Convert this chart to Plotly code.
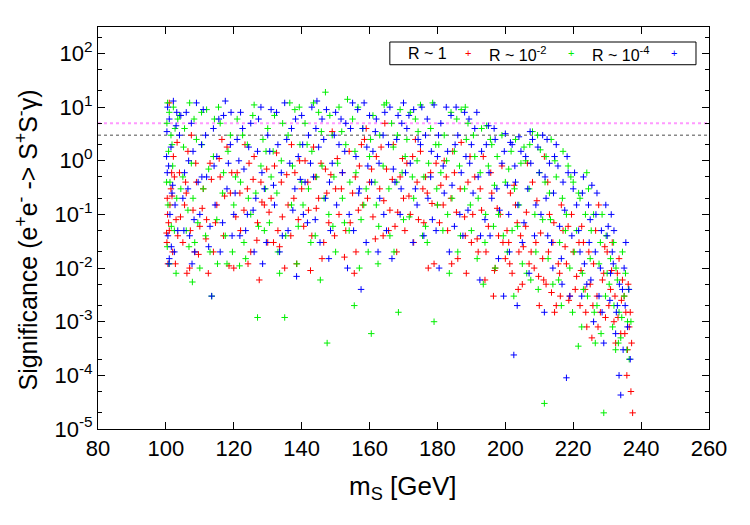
import plotly.graph_objects as go

# ---------------- data ----------------
# (m_S [GeV], significance)
red_points = [  # R ~ 1
    (100.5, 0.1), (100.8, 0.07), (101, 0.05), (101.2, 0.15), (100.3, 0.03), (101.5, 0.3), (102, 0.02),
    (101, 12), (102.5, 0.5), (100.6, 0.012), (103, 0.08), (101.8, 0.22), (102.2, 1.2), (100.4, 0.2), (103.5, 0.04),
    (104, 0.6), (105, 0.03), (106, 0.25), (107, 0.01), (108, 0.12), (109, 0.4), (106.5, 1.5), (110, 0.06),
    (108.5, 0.02), (105.5, 0.15), (107.5, 3.0),
    (111, 0.3), (112, 0.08), (113, 0.9), (114, 0.02), (115, 0.15), (116, 0.5), (117, 0.04), (118, 1.8),
    (119, 0.25), (120, 0.01), (112.5, 0.008), (116.5, 2.5),
    (121, 0.6), (122, 0.05), (123, 0.12), (124, 0.3), (125, 0.02), (126, 1.2), (127, 0.07), (128, 0.4),
    (129, 0.15), (130, 0.03), (124.5, 0.9), (127.5, 0.006),
    (131, 0.2), (132, 0.8), (133, 0.05), (134, 0.4), (135, 0.01), (136, 0.15), (137, 2.0), (138, 0.6),
    (139, 0.08), (140, 0.3), (133.5, 0.025), (138.5, 0.012),
    (141, 1.0), (142, 0.12), (143, 0.04), (144, 0.5), (145, 0.2), (146, 0.015), (147, 0.7), (148, 0.07),
    (149, 3.5), (150, 0.3), (143.5, 1.8), (146.5, 0.03),
    (151, 0.1), (152, 0.6), (153, 0.05), (154, 1.5), (155, 0.25), (156, 0.02), (157, 0.8), (158, 0.15),
    (159, 4.0), (160, 0.4), (155.5, 0.008), (158.5, 2.5),
    (161, 0.09), (162, 1.2), (163, 0.3), (164, 0.04), (165, 0.7), (166, 0.12), (167, 2.0), (168, 0.02),
    (169, 0.5), (170, 0.2), (164.5, 5.0), (167.5, 0.06),
    (171, 0.9), (172, 0.1), (173, 0.03), (174, 0.4), (175, 1.5), (176, 0.07), (177, 0.25), (178, 0.6),
    (179, 0.012), (180, 0.15), (173.5, 2.5), (176.5, 0.5),
    (181, 0.35), (182, 1.0), (183, 0.05), (184, 0.2), (185, 0.6), (186, 0.015), (187, 2.2), (188, 0.09),
    (189, 0.4), (190, 0.03), (184.5, 1.5), (188.5, 0.008),
    (191, 0.5), (192, 0.02), (193, 0.12), (194, 0.006), (195, 0.06), (196, 0.25), (197, 0.01), (198, 0.04),
    (199, 0.8), (200, 0.015), (193.5, 1.2), (196.5, 0.003), (198.5, 0.1),
    (201, 0.03), (202, 0.008), (203, 0.15), (204, 0.02), (205, 0.005), (206, 0.06), (207, 0.012), (208, 0.4),
    (209, 0.03), (210, 0.002), (203.5, 0.07), (206.5, 0.9), (201.5, 0.25), (208.5, 0.01), (204.5, 0.04),
    (211, 0.015), (212, 0.005), (213, 0.1), (214, 0.03), (215, 0.002), (216, 0.008), (217, 0.05), (218, 0.012),
    (219, 0.003), (220, 0.02), (212.5, 0.4), (216.5, 0.15), (214.5, 0.0015), (218.5, 0.06), (211.5, 1.2),
    (221, 0.007), (222, 0.002), (223, 0.03), (224, 0.0008), (225, 0.005), (226, 0.012), (227, 0.003),
    (228, 0.0015), (229, 0.008), (230, 0.02), (222.5, 0.06), (225.5, 0.0005), (227.5, 0.15), (223.5, 0.004),
    (229.5, 0.0012),
    (231, 0.004), (232, 0.001), (233, 0.008), (234, 0.0006), (235, 0.003), (236, 0.0003), (237, 5e-5),
    (237.5, 2e-5), (233.5, 0.015), (235.5, 0.0015), (232.5, 0.0004), (234.5, 0.006), (236.5, 0.0008),
    (231.5, 0.03),
    # second pass
    (100.2, 0.045), (101.7, 0.6), (102.8, 0.012), (104.3, 0.09), (105.8, 0.4), (107.2, 0.05), (108.8, 0.9),
    (109.6, 0.018), (103.3, 2.2), (106.2, 0.008),
    (110.7, 0.13), (111.8, 0.035), (113.4, 0.45), (114.6, 0.07), (115.7, 1.1), (117.3, 0.22), (118.6, 0.011),
    (119.4, 0.6),
    (120.6, 0.09), (121.8, 0.25), (123.3, 2.0), (124.2, 0.012), (125.7, 0.45), (126.8, 0.033), (128.3, 0.17),
    (129.7, 0.7),
    (130.4, 0.11), (131.7, 0.03), (132.6, 1.4), (134.3, 0.09), (135.6, 0.55), (136.8, 0.04), (137.7, 0.2),
    (139.4, 1.0),
    (140.6, 0.06), (141.8, 0.4), (142.6, 0.009), (144.3, 0.13), (145.7, 0.9), (147.4, 0.25), (148.6, 0.55),
    (149.7, 0.04),
    (150.5, 1.1), (151.7, 0.3), (152.6, 0.016), (154.3, 0.07), (155.8, 0.5), (156.7, 0.12), (157.6, 2.0),
    (159.4, 0.2),
    (160.6, 0.7), (161.7, 0.035), (163.4, 1.8), (164.2, 0.18), (165.6, 0.05), (166.7, 0.45), (168.3, 0.11),
    (169.7, 1.1),
    (170.4, 0.05), (171.6, 0.22), (172.7, 1.2), (174.4, 0.08), (175.7, 0.3), (177.3, 0.01), (178.4, 0.16),
    (179.6, 0.9),
    (180.6, 0.07), (181.7, 0.15), (182.6, 0.5), (184.2, 0.012), (185.6, 0.11), (186.7, 0.3), (188.2, 0.04),
    (189.6, 1.2),
    (190.4, 0.1), (191.7, 0.035), (192.6, 0.3), (194.3, 0.02), (195.7, 0.6), (196.8, 0.009), (197.6, 0.13),
    (199.3, 0.03),
    (200.5, 0.05), (201.3, 0.012), (202.6, 0.35), (203.8, 0.004), (205.3, 0.025), (206.2, 0.11), (207.6, 0.02),
    (209.3, 0.18), (209.8, 0.007),
    (210.4, 0.045), (211.3, 0.006), (212.7, 0.02), (213.6, 0.0035), (214.3, 0.07), (215.6, 0.012),
    (216.2, 0.003), (217.6, 0.025), (218.7, 0.0025), (219.5, 0.1),
    (220.6, 0.004), (221.7, 0.03), (222.3, 0.009), (223.7, 0.0015), (224.6, 0.02), (225.8, 0.002),
    (226.6, 0.05), (227.3, 0.0008), (228.6, 0.006), (229.3, 0.025),
    (230.5, 0.002), (231.3, 0.009), (232.3, 0.003), (233.2, 0.0012), (234.2, 0.0025), (235.2, 0.0006),
    (236.2, 0.005), (236.8, 0.0015), (237.2, 0.0004), (235.8, 0.0001),
]

green_points = [  # R ~ 10^-2
    (100.5, 12), (101, 8), (100.3, 5), (101.5, 3), (100.8, 1.5), (102, 0.8), (101.2, 0.4), (100.6, 0.15),
    (102.5, 0.05), (101, 0.012), (103, 0.008), (100.4, 0.025), (102.2, 10), (103.5, 6), (101.8, 2),
    (104, 7), (105, 0.5), (106, 0.05), (107, 12), (108, 0.2), (109, 2.5), (110, 0.01), (105.5, 4),
    (107.5, 0.9), (108.5, 0.03), (106.5, 0.12), (110.5, 8),
    (111, 0.3), (112, 9), (113, 0.02), (114, 1.2), (115, 0.08), (116, 5), (117, 0.6), (118, 0.012),
    (119, 3), (120, 0.15), (113.5, 0.003), (117.5, 0.04), (115.5, 10),
    (121, 6), (122, 0.4), (123, 0.03), (124, 2), (125, 0.1), (126, 11), (127, 0.0012), (128, 0.8),
    (129, 0.05), (130, 4), (123.5, 0.015), (126.5, 0.25), (129.5, 1.5),
    (131, 0.5), (132, 7), (133, 0.02), (134, 1.0), (135, 0.0012), (136, 3), (137, 0.15), (138, 9),
    (139, 0.06), (140, 0.4), (133.5, 0.008), (136.5, 12), (139.5, 2),
    (141, 5), (142, 0.3), (143, 1.5), (144, 0.04), (145, 8), (146, 0.8), (147, 19), (147.5, 0.0004),
    (148, 0.1), (149, 3), (150, 0.02), (143.5, 12), (145.5, 0.006), (149.5, 0.5),
    (151, 10), (152, 0.2), (153, 2), (154, 0.05), (155, 6), (156, 0.6), (157, 0.01), (158, 4),
    (159, 0.3), (160, 1.2), (153.5, 14), (157.5, 0.08), (160.5, 0.0006), (155.5, 0.002),
    (161, 7), (162, 0.15), (163, 3), (164, 0.8), (165, 12), (166, 0.04), (167, 1.8), (168, 0.4),
    (169, 9), (170, 0.08), (162.5, 0.012), (166.5, 5), (168.5, 0.0015),
    (171, 2.5), (172, 8), (173, 0.2), (174, 1.0), (175, 11), (176, 0.5), (177, 0.03), (178, 4),
    (179, 0.001), (180, 0.15), (173.5, 6), (176.5, 0.06), (179.5, 2),
    (181, 0.6), (182, 3), (183, 0.1), (184, 8), (185, 1.5), (186, 0.02), (187, 9), (188, 0.3),
    (189, 5), (190, 0.05), (183.5, 0.008), (186.5, 0.8), (188.5, 2.5),
    (191, 1.2), (192, 0.2), (193, 4), (194, 0.03), (195, 0.8), (196, 2), (197, 0.01), (198, 0.1),
    (199, 3), (200, 0.4), (193.5, 0.005), (196.5, 0.06), (194.5, 4.5),
    (201, 0.7), (202, 0.05), (203, 2.5), (204, 0.15), (205, 0.012), (206, 1.0), (207, 0.3), (208, 3.5),
    (209, 0.02), (210, 0.6), (202.5, 0.003), (205.5, 1.8), (207.5, 0.006), (209.5, 3),
    (211, 0.08), (211.5, 3e-5), (212, 1.2), (213, 0.25), (214, 0.005), (215, 0.5), (216, 0.03),
    (217, 1.5), (218, 0.1), (219, 0.01), (220, 0.4), (213.5, 2.5), (216.5, 0.002), (218.5, 0.8),
    (221.5, 3.5e-4),
    (221, 0.05), (222, 0.2), (223, 0.004), (224, 0.6), (225, 0.015), (226, 0.1), (227, 0.002),
    (228, 0.03), (229, 2e-5), (230, 0.008), (222.5, 0.0008), (224.5, 0.3), (226.5, 0.0004),
    (228.5, 0.1), (229.5, 0.003),
    (231, 0.015), (232, 0.002), (233, 0.006), (234, 0.0005), (235, 0.003), (236, 0.001), (234.5, 0.02),
    (232.5, 0.0003), (236.5, 0.0002), (233.5, 0.0015),
    # second pass
    (100.2, 0.4), (101.6, 0.06), (102.7, 4), (104.4, 0.3), (105.2, 1.8), (106.8, 0.025), (108.3, 6),
    (109.4, 0.07), (103.2, 0.2), (107.8, 0.0055),
    (110.6, 2), (111.7, 0.04), (112.6, 0.7), (114.3, 6), (115.2, 0.012), (116.7, 0.25), (118.3, 1.5),
    (119.6, 0.02),
    (120.5, 0.5), (121.7, 0.011), (122.6, 3), (124.3, 0.2), (125.6, 7), (127.3, 0.06), (128.6, 2.5),
    (129.3, 0.3),
    (130.5, 0.07), (131.6, 1.5), (132.7, 0.25), (134.4, 5), (135.3, 0.04), (137.3, 0.8), (138.6, 0.012),
    (139.3, 10),
    (140.4, 0.15), (141.6, 2), (142.7, 0.03), (144.4, 0.5), (145.8, 3.5), (146.6, 0.2), (148.3, 7),
    (149.2, 0.06),
    (150.6, 0.9), (151.8, 3.5), (152.6, 0.07), (154.2, 0.4), (155.7, 1.5), (156.6, 10), (158.3, 0.15),
    (159.6, 0.02),
    (160.3, 2.5), (161.6, 0.4), (162.7, 0.06), (164.3, 11), (165.7, 0.3), (167.2, 0.02), (168.2, 3),
    (169.6, 0.6),
    (170.5, 1.2), (171.7, 0.09), (172.6, 0.5), (174.3, 3.5), (175.6, 0.04), (177.4, 0.9), (178.6, 12),
    (179.8, 0.3),
    (180.4, 2), (181.6, 0.05), (182.7, 1.0), (184.3, 0.2), (185.7, 6), (186.8, 0.04), (188.2, 10),
    (189.7, 0.15),
    (190.6, 3), (191.7, 0.015), (192.6, 0.6), (194.2, 0.1), (195.6, 2.5), (196.8, 0.35), (197.6, 1.2),
    (199.4, 0.04),
    (200.6, 0.02), (201.7, 1.5), (202.7, 0.3), (203.6, 0.06), (204.6, 0.9), (206.3, 0.008), (207.2, 2),
    (208.7, 0.1), (209.7, 0.004),
    (210.3, 1.6), (211.7, 0.4), (212.6, 0.015), (213.3, 0.08), (214.6, 1.0), (215.7, 0.006), (216.8, 0.2),
    (217.7, 0.05), (219.3, 0.5), (219.8, 0.0015),
    (220.3, 0.02), (221.6, 0.25), (222.7, 0.008), (223.6, 0.1), (224.2, 0.003), (225.3, 0.05),
    (226.2, 0.0015), (227.6, 0.012), (228.2, 0.0006), (229.7, 0.04),
    (230.6, 0.005), (231.6, 0.0008), (232.6, 0.01), (233.3, 0.0004), (234.3, 0.0012), (235.4, 0.008),
    (235.8, 0.0003), (236.3, 0.004), (237.0, 0.001), (231.9, 0.03),
]

blue_points = [  # R ~ 10^-4
    (100.5, 10), (101, 6), (100.3, 3.5), (101.5, 1.8), (100.8, 0.8), (102, 0.35), (101.2, 0.1),
    (100.6, 0.04), (102.5, 0.02), (101, 0.015), (103, 4.5), (100.4, 0.6), (102.2, 13), (103.5, 0.05),
    (101.8, 0.25), (100.9, 0.012),
    (104, 3), (105, 0.2), (106, 8), (107, 0.04), (108, 1.5), (109, 12), (110, 0.1), (105.5, 0.6),
    (107.5, 5), (108.5, 0.02), (106.5, 0.3), (110.5, 2),
    (111, 9), (112, 0.5), (113, 0.06), (114, 4), (115, 1.2), (116, 0.02), (117, 7), (118, 0.3),
    (119, 2), (120, 0.1), (113.5, 0.003), (117.5, 13), (114.5, 0.15), (119.5, 0.04),
    (121, 2.5), (122, 8), (123, 0.7), (124, 0.1), (125, 5), (126, 0.02), (127, 1.5), (128, 10),
    (129, 0.3), (130, 3), (123.5, 0.05), (126.5, 0.2), (128.5, 0.012), (121.5, 1),
    (131, 9), (132, 0.15), (133, 2), (134, 0.6), (135, 12), (136, 0.05), (137, 4), (138, 0.3),
    (139, 1.2), (140, 7), (133.5, 0.02), (136.5, 0.9), (138.5, 0.007), (140.5, 0.1),
    (141, 0.4), (142, 3), (143, 10), (144, 0.08), (145, 1.8), (146, 6), (147, 0.2), (148, 0.015),
    (149, 0.9), (150, 8), (143.5, 0.5), (146.5, 2.5), (148.5, 0.05), (144.5, 13),
    (151, 2), (152, 0.6), (153, 5), (154, 0.1), (155, 12), (156, 1.2), (157, 0.3), (158, 4),
    (159, 0.03), (160, 7), (153.5, 0.01), (156.5, 9), (159.5, 0.8), (157.5, 0.004),
    (161, 1.5), (162, 6), (163, 0.2), (164, 3), (165, 0.05), (166, 10), (167, 0.7), (168, 2.5),
    (169, 0.1), (170, 12), (162.5, 0.02), (164.5, 8), (167.5, 0.4), (169.5, 5),
    (171, 4), (172, 0.9), (173, 9), (174, 0.15), (175, 2), (176, 0.04), (177, 6), (178, 0.5),
    (179, 11), (180, 1.2), (173.5, 0.3), (176.5, 3), (178.5, 0.08), (180.5, 0.01),
    (181, 5), (182, 0.25), (183, 1.5), (184, 7), (185, 0.06), (186, 3), (187, 0.6), (188, 8),
    (189, 0.12), (190, 2), (183.5, 0.02), (185.5, 10), (187.5, 0.04), (189.5, 0.9),
    (191, 4), (192, 0.5), (193, 1.5), (194, 0.08), (195, 4.5), (196, 0.2), (197, 2.5), (198, 0.015),
    (199, 0.9), (200, 3.2), (192.5, 0.006), (195.5, 0.04), (197.5, 0.3), (199.5, 0.003),
    (201, 0.1), (202, 2), (202.5, 0.00024), (203, 0.4), (204, 2.8), (205, 0.03), (206, 1.2), (207, 0.008),
    (208, 2.5), (209, 0.15), (210, 0.6), (203.5, 0.002), (205.5, 0.07), (207.5, 0.9), (201.5, 2.2),
    (211, 3), (212, 0.2), (213, 0.9), (214, 0.01), (215, 2), (216, 0.06), (217, 0.4), (218, 9e-5),
    (219, 0.003), (220, 0.3), (212.5, 0.04), (214.5, 1.2), (216.5, 0.015), (218.5, 0.6), (211.5, 0.0015),
    (221, 0.15), (222, 0.02), (223, 0.5), (224, 0.005), (225, 0.08), (226, 0.001), (227, 0.25),
    (228, 0.01), (229, 0.0004), (230, 0.04), (222.5, 0.003), (224.5, 0.15), (226.5, 0.02),
    (228.5, 0.0015), (225.5, 0.35),
    (231, 0.008), (232, 0.05), (233, 0.002), (234, 4.3e-5), (235, 0.01), (236, 0.0008), (233.5, 0.0001),
    (231.5, 0.02), (234.5, 0.004), (232.5, 0.0006), (235.5, 0.03),
    # second pass
    (100.2, 1.2), (101.6, 0.025), (102.7, 0.15), (104.4, 7), (105.3, 0.05), (106.7, 1.0), (108.3, 0.08),
    (109.5, 0.4), (103.2, 8), (107.7, 0.012),
    (110.6, 0.5), (111.7, 3), (112.6, 0.025), (114.2, 0.8), (115.6, 6), (116.7, 0.07), (118.4, 0.9),
    (119.2, 8),
    (120.4, 0.25), (121.8, 0.04), (122.6, 4), (124.4, 1.8), (125.7, 0.12), (127.3, 6), (128.3, 0.6),
    (129.6, 0.03),
    (130.6, 1.5), (131.7, 0.35), (132.6, 8), (134.3, 0.04), (135.6, 2.5), (137.4, 0.12), (138.2, 6),
    (139.6, 0.45),
    (140.3, 2), (141.7, 0.07), (142.6, 0.9), (144.2, 4), (145.4, 0.03), (147.3, 9), (148.2, 0.4),
    (149.6, 3),
    (150.3, 0.15), (151.6, 6), (152.7, 1.5), (154.4, 4), (155.3, 0.05), (156.8, 0.25), (158.4, 12),
    (159.2, 1.8),
    (160.6, 0.4), (161.7, 3.5), (162.8, 0.9), (164.2, 0.1), (165.6, 2), (166.6, 0.015), (168.4, 7),
    (169.3, 0.3),
    (170.6, 0.6), (171.6, 7), (172.8, 0.03), (174.3, 2.5), (175.4, 10), (177.2, 0.2), (178.2, 1.5),
    (179.6, 0.05),
    (180.3, 3), (181.7, 0.8), (182.6, 10), (184.3, 0.35), (185.2, 2), (186.6, 0.1), (188.4, 1.2),
    (189.3, 6),
    (190.5, 0.25), (191.6, 8), (192.7, 0.04), (194.4, 2), (195.2, 0.6), (196.7, 4), (198.3, 0.12),
    (199.7, 1.5),
    (200.6, 0.35), (201.2, 0.02), (202.8, 0.8), (203.7, 0.15), (204.6, 1.5), (206.6, 0.3), (207.3, 3.5),
    (208.6, 0.04), (209.6, 1.8),
    (210.5, 0.1), (211.7, 0.5), (212.3, 2.5), (213.6, 0.03), (214.2, 0.25), (215.5, 0.8), (216.7, 0.005),
    (217.5, 0.12), (218.2, 1.2), (219.6, 0.04),
    (220.4, 0.6), (221.6, 0.05), (222.7, 0.25), (223.3, 0.012), (224.7, 0.03), (225.2, 0.006),
    (226.7, 0.1), (227.6, 0.003), (228.3, 0.05), (229.6, 0.15),
    (230.3, 0.06), (230.8, 0.0025), (231.8, 0.012), (232.7, 0.0015), (233.6, 0.005), (234.7, 0.0003),
    (235.3, 0.002), (236.4, 0.004), (236.8, 0.0002), (231.2, 0.1),
]

series_names = ["R ~ 1", "R ~ 10<sup>-2</sup>", "R ~ 10<sup>-4</sup>"]
series_colors = ["#ff0000", "#00ee00", "#0000ff"]

threshold_5sigma = 5.0
threshold_3sigma = 3.0

x_ticks = [80, 100, 120, 140, 160, 180, 200, 220, 240, 260]
y_tick_vals = [1e-5, 1e-4, 1e-3, 1e-2, 1e-1, 1e0, 1e1, 1e2]
y_tick_text = ["10<sup>-5</sup>", "10<sup>-4</sup>", "10<sup>-3</sup>", "10<sup>-2</sup>",
               "10<sup>-1</sup>", "10<sup>0</sup>", "10<sup>1</sup>", "10<sup>2</sup>"]

x_title = "m<sub>S</sub> [GeV]"
y_title = "Significance (e<sup>+</sup>e<sup>-</sup> -> S<sup>+</sup>S<sup>-</sup>\u03b3)"

# ---------------- figure ----------------
FONT = "Liberation Sans, Arial, Helvetica, sans-serif"
fig = go.Figure()

# threshold lines (drawn across the full x range)
fig.add_trace(go.Scatter(x=[x_ticks[0], x_ticks[-1]], y=[threshold_5sigma] * 2, mode="lines",
                         line=dict(color="#ff99ff", width=2, dash="dot"), showlegend=False,
                         hoverinfo="skip"))
fig.add_trace(go.Scatter(x=[x_ticks[0], x_ticks[-1]], y=[threshold_3sigma] * 2, mode="lines",
                         line=dict(color="#888888", width=1.5, dash="dot"), showlegend=False,
                         hoverinfo="skip"))

for pts, name, col in zip([red_points, green_points, blue_points], series_names, series_colors):
    xs = [p[0] for p in pts]
    ys = [p[1] for p in pts]
    fig.add_trace(go.Scatter(
        x=xs, y=ys, mode="markers", name=name, showlegend=False,
        marker=dict(symbol="cross-thin", size=4.6, line=dict(color=col, width=1), color=col),
    ))

# pixel -> paper helpers (plot area of the 750x525 canvas)
PX0, PX1, PY0, PY1 = 98.3, 709.0, 27.3, 429.0
def px(xp):
    return (xp - PX0) / (PX1 - PX0)
def py(yp):
    return (PY1 - yp) / (PY1 - PY0)

# gnuplot-style key: text followed by coloured point symbol
fig.add_shape(type="rect", xref="paper", yref="paper",
              x0=px(390), x1=px(696), y0=py(65), y1=py(42.3),
              line=dict(color="black", width=1), fillcolor="white", layer="above")
key_text_x = [406, 487, 590]
key_sym_x = [468, 571, 674]
for name, col, tx, sx in zip(series_names, series_colors, key_text_x, key_sym_x):
    fig.add_annotation(x=px(tx), y=py(54), xref="paper", yref="paper", text=name,
                       showarrow=False, xanchor="left", yanchor="middle",
                       font=dict(family=FONT, size=16, color="black"))
    fig.add_annotation(x=px(sx), y=py(53.5), xref="paper", yref="paper", text="+",
                       showarrow=False, xanchor="center", yanchor="middle",
                       font=dict(family=FONT, size=11, color=col))

# axis titles
fig.add_annotation(x=px(403.5), y=py(487), xref="paper", yref="paper", text=x_title,
                   showarrow=False, xanchor="center", yanchor="middle",
                   font=dict(family=FONT, size=26, color="black"))
fig.add_annotation(x=px(27), y=py(240), xref="paper", yref="paper", text=y_title, textangle=-90,
                   showarrow=False, xanchor="center", yanchor="middle",
                   font=dict(family=FONT, size=25, color="black"))

axis_common = dict(showline=True, linecolor="black", linewidth=1, mirror="ticks",
                   ticks="inside", ticklen=7, tickwidth=1, tickcolor="black",
                   showgrid=False, zeroline=False,
                   tickfont=dict(family=FONT, size=22, color="black"))

fig.update_xaxes(range=[80, 260], tickvals=x_ticks, ticktext=[str(v) for v in x_ticks],
                 **axis_common)
fig.update_yaxes(type="log", range=[-5, 2.494], tickvals=y_tick_vals, ticktext=y_tick_text,
                 minor=dict(ticks="inside", ticklen=4, tickcolor="black", dtick="D2", showgrid=False),
                 **axis_common)

fig.update_layout(width=750, height=525, margin=dict(l=98, r=41, t=27, b=96, pad=0),
                  paper_bgcolor="white", plot_bgcolor="white", showlegend=False,
                  font=dict(family=FONT, color="black"))

fig.write_html("out.html")
